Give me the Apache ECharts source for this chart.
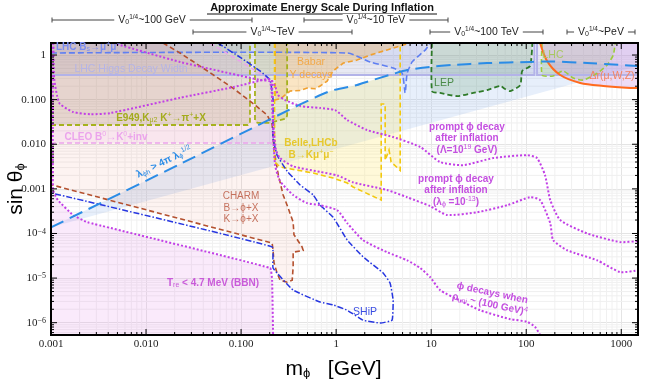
<!DOCTYPE html>
<html>
<head>
<meta charset="utf-8">
<script src="https://cdn.jsdelivr.net/npm/echarts@6/dist/echarts.min.js"></script>
<style>
  html, body { margin: 0; padding: 0; background: #fff; }
  #chart { width: 650px; height: 379px; }
</style>
</head>
<body>
<div id="chart"></div>
<script>
var X_MIN = 0.001, X_MAX = 1500;
var Y_MIN = 5.3e-7, Y_MAX = 1.86;

// all curves are [m_phi (GeV), sin theta]
var lambdaLine = [[0.001,1.37e-4],[0.0228,0.0036],[0.418,0.078],[0.865,0.156],[1.66,0.212],[1.92,0.236],[3.7,0.36],[5.59,0.46],[9.76,0.54],[17,0.6],[38.8,0.66],[110,0.7],[192,0.72],[439,0.66],[976,0.6],[1500,0.57]];
var lhcBs = [[0.001,1.11],[1.31,1.11],[2.28,0.7],[3.98,0.51],[4.95,0.39],[5.32,0.141],[5.59,0.39],[6.3,0.7],[7.12,0.9],[8.65,1.29],[9.76,1.86]];
var higgsLeft = [[0.001,0.356],[122,0.356],[122,1.86]];
var higgsRight = [[130,1.86],[130,0.356],[1500,0.356]];
var e949a = [[0.001,0.027],[0.118,0.027],[0.124,0.03],[0.124,1.86]];
var e949b = [[0.14,1.86],[0.14,0.033],[0.15,0.03],[0.2,0.03],[0.3,0.038],[0.305,0.045],[0.305,1.86]];
var cleoFlat = [[0.001,0.0106],[0.215,0.0106]];
var cleoDiag = [[0.047,1.86],[0.158,0.39],[0.2,0.28]];
var cleoEdge = [[0.215,0.0106],[0.212,0.1],[0.2,0.28]];
var charm = [[0.0151,1.86],[0.0228,1.11],[0.037,0.566],[0.082,0.182],[0.14,0.076],[0.188,0.045],[0.212,0.028],[0.222,0.0074],[0.247,0.002],[0.277,0.00073],[0.305,0.00043],[0.353,0.00018],[0.36,9.4e-5],[0.438,5e-5],[0.45,4.2e-5],[0.353,3.8e-5],[0.353,1.77e-5],[0.345,9e-6],[0.305,8.1e-6],[0.257,9e-6],[0.239,1.3e-5],[0.222,2.2e-5],[0.217,4.2e-5],[0.212,6.1e-5],[0.001,1.24e-3]];
var ship = [[0.057,1.86],[0.1,0.86],[0.158,0.44],[0.202,0.275],[0.217,0.098],[0.217,0.0138],[0.239,0.0057],[0.305,0.0025],[0.418,0.00122],[0.573,0.00073],[0.679,0.00043],[0.93,0.00023],[1.31,7.1e-5],[1.92,3e-5],[3.12,1.3e-5],[3.7,7.7e-6],[3.98,3.2e-6],[3.88,1.14e-6],[2.9,9.8e-7],[1.92,1.14e-6],[1.31,1.9e-6],[0.93,2.5e-6],[0.679,2.9e-6],[0.353,5.4e-6],[0.217,1.68e-5],[0.212,5e-5],[0.001,8.1e-4]];
var promptBigLambda = [[0.00106,1.86],[0.00108,0.3],[0.00116,0.12],[0.00124,0.08],[0.0017,0.053],[0.0026,0.047],[0.0042,0.05],[0.0228,0.11],[0.082,0.19],[0.188,0.29],[0.205,0.28],[0.228,0.2],[0.245,0.127],[0.29,0.098],[0.418,0.072],[0.679,0.065],[0.976,0.058],[1.31,0.035],[2.12,0.0208],[3.98,0.0145],[7.66,0.0087],[12.4,0.004],[21.7,0.0034],[44.9,0.0049],[102,0.0057],[130,0.0049],[158,0.002],[179,0.00056],[228,0.0002],[439,0.0001],[976,6.4e-5],[1500,6.8e-5]];
var promptSelf = [[0.0045,1.86],[0.0228,0.7],[0.158,0.275],[0.202,0.25],[0.217,0.035],[0.233,0.0074],[0.257,0.0049],[0.353,0.0032],[0.679,0.0024],[1.03,0.002],[1.51,0.0014],[3.44,0.00094],[5.59,0.00065],[9.76,0.00041],[14.7,0.00026],[30.5,0.0003],[63.1,0.00043],[110,0.00065],[140,0.00056],[179,0.00017],[192,7.1e-5],[270,4.2e-5],[559,2.5e-5],[976,1.36e-5],[1500,1.5e-5]];
var rhoUni = [[0.212,0.275],[0.217,0.0208],[0.228,0.0034],[0.257,0.0015],[0.353,0.00073],[0.495,0.00048],[0.679,0.00043],[1.03,0.00033],[1.31,0.00017],[1.92,7.1e-5],[3.44,3.8e-5],[5.59,2.5e-5],[7.66,1.68e-5],[9.76,1.05e-5],[12.4,5.4e-6],[20.2,3.1e-6],[32.8,1.9e-6],[67.9,1.2e-6],[102,1.05e-6],[124,8e-7],[140,5.3e-7]];
var bbn = [[0.00105,1.86],[0.00105,0.00094],[0.00118,0.00056],[0.0017,0.00026],[0.0024,0.00018],[0.202,1.68e-5],[0.212,9e-6],[0.217,5.3e-7]];
var babar = [[0.228,1.86],[0.228,0.098],[0.26,0.105],[0.328,0.156],[0.42,0.16],[0.495,0.182],[0.6,0.175],[0.679,0.202],[0.804,0.26],[0.93,0.44],[1.19,0.66],[1.66,0.77],[2.28,1.0],[3.44,1.3],[4.72,1.6],[6,1.86]];
var belle = [[0.225,1.86],[0.225,0.004],[0.257,0.0031],[0.305,0.0029],[0.573,0.00226],[0.93,0.00175],[1.31,0.00135],[1.51,0.0011],[2.98,0.00056],[2.98,0.08],[3.28,0.08],[3.28,0.0044],[3.6,0.0074],[3.79,0.004],[4.72,0.0026],[4.72,1.86]];
var lep = [[10.2,1.86],[10.2,0.156],[12.4,0.141],[18.8,0.12],[27.7,0.141],[38.8,0.164],[53.3,0.202],[60,0.173],[67.9,0.156],[86.5,0.212],[90.8,0.44],[110,0.57],[116,1.86]];
var lhc = [[147,1.86],[147,0.356],[192,0.34],[245,0.44],[312,0.305],[398,0.275],[559,0.39],[712,0.6],[824,1.0],[865,1.86]];
var deltaR = [[140,1.86],[166,0.73],[228,0.356],[370,0.236],[647,0.202],[1244,0.182],[1500,0.182]];

var chart = echarts.init(document.getElementById('chart'));

// sin theta on the lambda line at mass m (log-log interpolation of lambdaLine)
function lambdaAt(m) {
  for (var i = 1; i < lambdaLine.length; i++) {
    var a = lambdaLine[i - 1], b = lambdaLine[i];
    if (m <= b[0]) {
      var t = (Math.log(m) - Math.log(a[0])) / (Math.log(b[0]) - Math.log(a[0]));
      return Math.exp(Math.log(a[1]) + t * (Math.log(b[1]) - Math.log(a[1])));
    }
  }
  return lambdaLine[lambdaLine.length - 1][1];
}
// Belle fill sits under the lambda line
var belleLo = belle[1][0], belleHi = belle[belle.length - 1][0];
var belleFill = belle.slice(1, belle.length - 1)
  .concat([[belleHi, lambdaAt(belleHi)]])
  .concat(lambdaLine.filter(function (p) { return p[0] > belleLo && p[0] < belleHi; }).reverse())
  .concat([[belleLo, lambdaAt(belleLo)]]);

function toPx(api, list) {
  return list.map(function (p) { return api.coord(p); });
}
function layer(list, z, build) {
  return {
    type: 'custom', coordinateSystem: 'cartesian2d', silent: true, z: z,
    data: [list[0]],
    renderItem: function (params, api) {
      var cs = params.coordSys;
      return {
        type: 'group',
        clipPath: { type: 'rect', shape: { x: cs.x, y: cs.y, width: cs.width, height: cs.height } },
        children: [build(toPx(api, list))]
      };
    }
  };
}
function area(list, color) {
  return layer(list, 2, function (p) {
    return { type: 'polygon', shape: { points: p }, style: { fill: color } };
  });
}
function curve(list, color, width, dash, smooth) {
  return layer(list, 4, function (p) {
    return { type: 'polyline', shape: { points: p, smooth: smooth || 0 },
      style: { stroke: color, lineWidth: width, lineDash: dash || null, fill: null } };
  });
}

var top = [[X_MAX, Y_MAX], [X_MIN, Y_MAX]];
var purple = '#c23fe6';
var dot = [2, 2];
var dash = [5, 3];

// minor grid + frame ticks
var minorX = [], minorY = [], majorX = [], majorY = [];
for (var e = -3; e <= 3; e++) {
  majorX.push(Math.pow(10, e));
  for (var k = 2; k <= 9; k++) if (k * Math.pow(10, e) < X_MAX) minorX.push(k * Math.pow(10, e));
}
for (e = -7; e <= 0; e++) {
  if (e >= -6) majorY.push(Math.pow(10, e));
  for (k = 2; k <= 9; k++) {
    var v = k * Math.pow(10, e);
    if (v > Y_MIN && v < Y_MAX) minorY.push(v);
  }
}

var gridSeries = {
  type: 'custom', coordinateSystem: 'cartesian2d', silent: true, z: 1,
  data: [[X_MIN, Y_MIN]],
  renderItem: function (params, api) {
    var kids = [];
    minorX.forEach(function (x) {
      var a = api.coord([x, Y_MIN]), b = api.coord([x, Y_MAX]);
      kids.push({ type: 'line', shape: { x1: a[0], y1: a[1], x2: b[0], y2: b[1] }, style: { stroke: '#f0f0f0', lineWidth: 1 } });
    });
    minorY.forEach(function (y) {
      var a = api.coord([X_MIN, y]), b = api.coord([X_MAX, y]);
      kids.push({ type: 'line', shape: { x1: a[0], y1: a[1], x2: b[0], y2: b[1] }, style: { stroke: '#f0f0f0', lineWidth: 1 } });
    });
    return { type: 'group', children: kids };
  }
};

var frameSeries = {
  type: 'custom', coordinateSystem: 'cartesian2d', silent: true, z: 10,
  data: [[X_MIN, Y_MIN]],
  renderItem: function (params, api) {
    var cs = params.coordSys, kids = [];
    function tick(x1, y1, x2, y2) {
      kids.push({ type: 'line', shape: { x1: x1, y1: y1, x2: x2, y2: y2 }, style: { stroke: '#000', lineWidth: 1 } });
    }
    minorX.concat(majorX).forEach(function (x, i) {
      var len = i >= minorX.length ? 6 : 3;
      var px = api.coord([x, Y_MIN])[0];
      tick(px, cs.y + cs.height, px, cs.y + cs.height - len);
      tick(px, cs.y, px, cs.y + len);
    });
    minorY.concat(majorY).forEach(function (y, i) {
      var len = i >= minorY.length ? 6 : 3;
      var py = api.coord([X_MIN, y])[1];
      tick(cs.x, py, cs.x + len, py);
      tick(cs.x + cs.width, py, cs.x + cs.width - len, py);
    });
    kids.push({ type: 'rect', shape: { x: cs.x, y: cs.y, width: cs.width, height: cs.height },
      style: { fill: null, stroke: '#000', lineWidth: 2 } });
    return { type: 'group', children: kids };
  }
};

function fmtX(v) {
  var l = Math.log10(v), e = Math.round(l);
  if (Math.abs(l - e) > 0.01) return '';
  return e < 0 ? Math.pow(10, e).toFixed(3) : String(Math.pow(10, e));
}
function fmtY(v) {
  var l = Math.log10(v), e = Math.round(l);
  if (Math.abs(l - e) > 0.01) return '';
  if (e === 0) return '1';
  if (e >= -3) return Math.pow(10, e).toFixed(3);
  return '10{e|\u2212' + (-e) + '}';
}

var SUB = { fontSize: 7, verticalAlign: 'bottom', lineHeight: 12 };
var SUP = { fontSize: 7, verticalAlign: 'top', lineHeight: 12 };

function label(x, y, text, color, opt) {
  opt = opt || {};
  return {
    type: 'text', x: x, y: y, z: 50, rotation: opt.rot || 0, silent: true,
    style: {
      text: text, fill: color,
      font: (opt.bold === false ? '' : 'bold ') + (opt.size || 10) + 'px "Liberation Sans", Arial, sans-serif',
      textAlign: opt.align || 'center', textVerticalAlign: 'middle',
      align: opt.align || 'center', verticalAlign: 'middle',
      lineHeight: opt.lh || 12,
      rich: { s: SUB, p: SUP }
    }
  };
}

// energy-scale bars above the frame (pixel layout)
var bars = [
  [52, 252, 20, '100 GeV'],
  [304, 448, 20, '10 TeV'],
  [193, 352, 32, 'TeV'],
  [430, 543, 32, '100 TeV'],
  [567, 635, 32, 'PeV']
];
var graphics = [];
bars.forEach(function (b) {
  graphics.push({ type: 'line', silent: true, shape: { x1: b[0], y1: b[2], x2: b[1], y2: b[2] }, style: { stroke: '#444', lineWidth: 1 } });
  graphics.push({ type: 'line', silent: true, shape: { x1: b[0], y1: b[2] - 2.5, x2: b[0], y2: b[2] + 2.5 }, style: { stroke: '#444', lineWidth: 1 } });
  graphics.push({ type: 'line', silent: true, shape: { x1: b[1], y1: b[2] - 2.5, x2: b[1], y2: b[2] + 2.5 }, style: { stroke: '#444', lineWidth: 1 } });
  graphics.push({
    type: 'text', x: (b[0] + b[1]) / 2, y: b[2], z: 20, silent: true,
    style: {
      text: 'V{s|0}{p|1/4}~' + b[3], fill: '#222', backgroundColor: '#fff', padding: [0, 4],
      font: '10.5px "Liberation Sans", Arial, sans-serif',
      textAlign: 'center', textVerticalAlign: 'middle', align: 'center', verticalAlign: 'middle',
      lineHeight: 12,
      rich: { s: { fontSize: 7, verticalAlign: 'bottom', lineHeight: 12 }, p: { fontSize: 6.5, verticalAlign: 'top', lineHeight: 12 } }
    }
  });
});
graphics.push({
  type: 'text', x: 322, y: 8, silent: true,
  style: { text: 'Approximate Energy Scale During Inflation', fill: '#111',
    font: 'bold 11px "Liberation Sans", Arial, sans-serif',
    textAlign: 'center', textVerticalAlign: 'middle', align: 'center', verticalAlign: 'middle' }
});
graphics.push({ type: 'line', silent: true, shape: { x1: 207, y1: 14, x2: 437, y2: 14 }, style: { stroke: '#111', lineWidth: 1 } });

graphics = graphics.concat([
  label(56, 47, 'LHC B{s|s}\u2192\u03bc{p|+}\u03bc{p|\u2212}', '#7c8df0', { align: 'left' }),
  label(131, 69, 'LHC Higgs Decay Width', '#b4b4e6', { bold: false, size: 10.5 }),
  label(161, 118, 'E949,K{s|\u03bc2} K{p|+}\u2192\u03c0{p|+}+X', '#a3ab1c'),
  label(106, 137, 'CLEO B{p|0}\u2192K{p|0}+inv', '#eba4ec'),
  label(164, 162, '\u03bb{s|\u03d5h} > 4\u03c0 \u03bb{s|\u03d5}{p|1/2}', '#2b8ce6', { rot: 0.46 }),
  label(241, 208, 'CHARM\nB\u2192\u03d5+X\nK\u2192\u03d5+X', '#c5725e', { lh: 11.5, bold: false, size: 10 }),
  label(213, 283, 'T{s|re} < 4.7 MeV (BBN)', '#c95bd9'),
  label(311, 69, 'Babar\n\u03a5 decays', '#f2a94a', { lh: 13, bold: false, size: 10.5 }),
  label(311, 149, 'Belle,LHCb\nB\u2192K\u03bc{p|+}\u03bc{p|\u2212}', '#e6c82c', { lh: 11.5 }),
  label(365, 312, 'SHiP', '#3a4de2', { bold: false, size: 10.5 }),
  label(444, 83, 'LEP', '#4b8b49', { bold: false, size: 10.5 }),
  label(553, 55, 'LHC', '#a9c862', { bold: false, size: 10.5 }),
  label(612, 76, '\u0394r(\u03bc,W,Z)', '#f28462', { bold: false, size: 10.5 }),
  label(467, 139, 'prompt \u03d5 decay\nafter inflation\n(\u039b=10{p|19} GeV)', '#c44fe0', { lh: 11 }),
  label(456, 191, 'prompt \u03d5 decay\nafter inflation\n(\u03bb{s|\u03d5} =10{p|-13})', '#c44fe0', { lh: 11 }),
  label(491, 299, '\u03d5 decays when\n\u03c1{s|uni} ~ (100 GeV){p|4}', '#c44fe0', { lh: 11, rot: -0.21 })
]);

var option = {
  animation: false,
  backgroundColor: '#fff',
  grid: { left: 51, right: 12, top: 43, bottom: 44, show: false, containLabel: false, outerBoundsMode: 'none' },
  xAxis: {
    type: 'log', logBase: 10, min: X_MIN, max: X_MAX,
    name: '{m|m}{s|\u03d5}{m|   [GeV]}', nameLocation: 'middle', nameGap: 21,
    nameTextStyle: { padding: [0, 22, 0, 0], rich: {
      m: { fontSize: 21, fontFamily: '"Liberation Sans", Arial', color: '#000', lineHeight: 24, verticalAlign: 'bottom' },
      s: { fontSize: 13, fontFamily: '"Liberation Sans", Arial', color: '#000', lineHeight: 24, verticalAlign: 'bottom' } } },
    axisLine: { show: false },
    axisTick: { show: false },
    axisLabel: { formatter: fmtX, fontFamily: '"Liberation Serif", serif', fontSize: 11, color: '#222', margin: 4 },
    splitLine: { show: true, lineStyle: { color: '#e4e4e4', width: 1 } }
  },
  yAxis: {
    type: 'log', logBase: 10, min: Y_MIN, max: Y_MAX,
    name: '{m|sin \u03b8}{s|\u03d5}', nameLocation: 'middle', nameGap: 24, nameRotate: 90, nameMoveOverlap: false,
    nameTextStyle: { rich: {
      m: { fontSize: 21, fontFamily: '"Liberation Sans", Arial', color: '#000', lineHeight: 24, verticalAlign: 'bottom' },
      s: { fontSize: 13, fontFamily: '"Liberation Sans", Arial', color: '#000', lineHeight: 24, verticalAlign: 'bottom' } } },
    axisLine: { show: false },
    axisTick: { show: false },
    axisLabel: { formatter: fmtY, fontFamily: '"Liberation Serif", serif', fontSize: 11, color: '#222', margin: 5,
      rich: { e: { fontSize: 8, verticalAlign: 'top', lineHeight: 12, fontFamily: '"Liberation Serif", serif', color: '#222' } } },
    splitLine: { show: true, lineStyle: { color: '#e4e4e4', width: 1 } }
  },
  graphic: graphics,
  series: [
    gridSeries,
    area(lambdaLine.concat(top), 'rgba(120,165,235,0.18)'),
    area(lhcBs.concat([[X_MIN, Y_MAX]]), 'rgba(110,140,245,0.14)'),
    area(higgsLeft.concat([[X_MIN, Y_MAX]]), 'rgba(130,135,190,0.18)'),
    area(higgsRight.concat([[X_MAX, Y_MAX]]), 'rgba(140,140,200,0.16)'),
    area(e949a.concat([[X_MIN, Y_MAX]]), 'rgba(140,150,60,0.2)'),
    area(e949b, 'rgba(150,155,50,0.2)'),
    area(cleoFlat.concat(cleoEdge.slice(1), cleoDiag.slice().reverse().slice(1), [[X_MIN, Y_MAX]]), 'rgba(225,150,235,0.13)'),
    area(charm.concat([[X_MIN, Y_MAX]]), 'rgba(225,100,80,0.08)'),
    area(bbn.concat([[X_MIN, Y_MIN]]), 'rgba(225,140,235,0.18)'),
    area(babar, 'rgba(240,170,60,0.3)'),
    area(belleFill, 'rgba(255,235,120,0.28)'),
    area(lep, 'rgba(100,160,110,0.22)'),
    area(lhc, 'rgba(150,210,90,0.22)'),
    area(deltaR.concat([[X_MAX, Y_MAX]]), 'rgba(200,140,230,0.3)'),

    curve(higgsLeft, '#b3b3e8', 2),
    curve(higgsRight, '#b3b3e8', 2),
    curve(lhcBs, '#5f7ff2', 1.6, [6, 3], 0.2),
    curve(e949a, '#a6b21e', 1.8, dash),
    curve(e949b, '#a6b21e', 1.8, dash),
    curve(cleoFlat, '#eba4ec', 1.5, dash),
    curve(cleoDiag, '#eba4ec', 1.5, dash),
    curve(charm, '#b4502e', 1.6, dash),
    curve(babar, '#f0a030', 1.6, dash),
    curve(belle, '#f2c80e', 1.6, dash),
    curve(lep, '#2e7a28', 1.8, dash, 0.2),
    curve(lhc, '#9ccc3c', 1.6, dash, 0.2),
    curve(deltaR, '#ff6a1e', 2, null, 0.3),
    curve(ship, '#2636e0', 1.5, [6, 2, 1.5, 2], 0.1),
    curve(promptBigLambda, purple, 2, dot, 0.2),
    curve(promptSelf, purple, 2, dot, 0.2),
    curve(rhoUni, purple, 2, dot, 0.2),
    curve(bbn, purple, 2, dot, 0.1),
    curve(lambdaLine, '#2b8ce6', 2, [14, 7], 0.2),
    frameSeries
  ]
};
chart.setOption(option);
</script>
</body>
</html>
